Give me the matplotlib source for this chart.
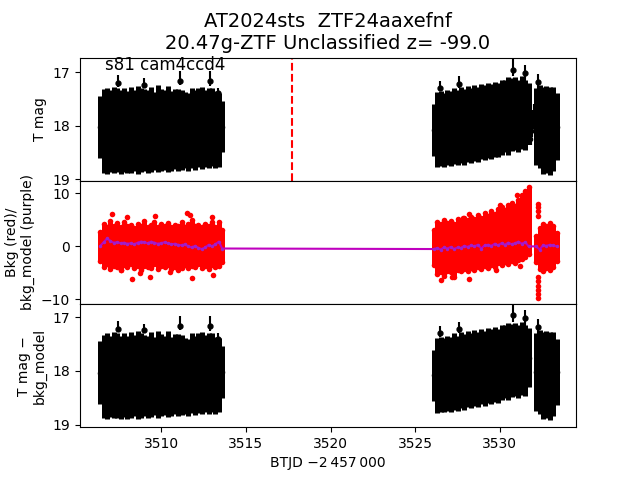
import matplotlib
matplotlib.use("Agg")
import matplotlib.pyplot as plt

# time bins (BTJD - 2457000) for the three chunks of data
t1 = [3506.4, 3506.6, 3506.8, 3507.0, 3507.2, 3507.4, 3507.6, 3507.8, 3508.0, 3508.2,
      3508.4, 3508.6, 3508.8, 3509.0, 3509.2, 3509.4, 3509.6, 3509.8, 3510.0, 3510.2,
      3510.4, 3510.6, 3510.8, 3511.0, 3511.2, 3511.4, 3511.6, 3511.8, 3512.0, 3512.2,
      3512.4, 3512.6, 3512.8, 3513.0, 3513.2, 3513.4, 3513.6]
t2 = [3526.1, 3526.3, 3526.5, 3526.7, 3526.9, 3527.1, 3527.3, 3527.5, 3527.7, 3527.9,
      3528.1, 3528.3, 3528.5, 3528.7, 3528.9, 3529.1, 3529.3, 3529.5, 3529.7, 3529.9,
      3530.1, 3530.3, 3530.5, 3530.7, 3530.9, 3531.1, 3531.3, 3531.5, 3531.7]
t3 = [3532.15, 3532.35, 3532.55, 3532.75, 3532.95, 3533.15, 3533.35]

# T mag and error
mag1 = [18.03, 18.10, 18.10, 18.10, 18.08, 18.08, 18.12, 18.08, 18.12, 18.08,
        18.09, 18.08, 18.08, 18.08, 18.11, 18.07, 18.10, 18.06, 18.08, 18.08,
        18.06, 18.10, 18.06, 18.08, 18.08, 18.09, 18.12, 18.04, 18.08, 18.04,
        18.04, 18.05, 18.05, 18.03, 18.08, 18.08, 18.02]
err1 = [0.58, 0.78, 0.80, 0.76, 0.80, 0.79, 0.78, 0.78, 0.77, 0.80,
        0.76, 0.82, 0.79, 0.76, 0.77, 0.79, 0.73, 0.81, 0.77, 0.74,
        0.80, 0.74, 0.75, 0.77, 0.75, 0.71, 0.72, 0.75, 0.74, 0.74,
        0.77, 0.72, 0.75, 0.73, 0.72, 0.69, 0.48]
mag2 = [18.08, 18.08, 18.06, 18.08, 18.04, 18.06, 18.01, 18.04, 17.99, 18.02,
        17.97, 18.00, 17.95, 17.98, 17.92, 17.95, 17.90, 17.92, 17.88, 17.90,
        17.84, 17.82, 17.82, 17.80, 17.78, 17.82, 17.76, 17.80, 17.75]
err2 = [0.48, 0.70, 0.70, 0.69, 0.70, 0.70, 0.71, 0.70, 0.71, 0.71,
        0.71, 0.70, 0.71, 0.70, 0.70, 0.70, 0.70, 0.70, 0.70, 0.69,
        0.70, 0.68, 0.72, 0.68, 0.68, 0.68, 0.68, 0.66, 0.55]
mag3 = [18.02, 18.02, 18.09, 18.07, 18.10, 18.06, 18.02]
err3 = [0.72, 0.78, 0.81, 0.81, 0.82, 0.79, 0.62]

# bright single points sticking out of the top (lower / upper error)
bright_t = [3507.42, 3509.00, 3511.12, 3512.89, 3513.38, 3526.46, 3527.60, 3530.79, 3531.50, 3532.26]
bright_mag = [17.21, 17.24, 17.16, 17.16, 17.40, 17.29, 17.22, 16.96, 17.02, 17.18]
bright_lo = [0.15, 0.12, 0.18, 0.18, 0.10, 0.12, 0.14, 0.20, 0.15, 0.15]
bright_hi = [0.07, 0.06, 0.08, 0.10, 0.06, 0.07, 0.08, 0.12, 0.14, 0.20]

# points bridging the short gap (only in the T mag panel)
bridge_t = [3531.78, 3531.86, 3531.94, 3532.02, 3532.08]
bridge_mag = [18.25, 18.10, 17.95, 17.82, 17.72]
bridge_err = [0.12, 0.12, 0.12, 0.12, 0.12]

# background flux: spread of the points per bin
bkg_hi1 = [2.8, 4.2, 3.6, 4.8, 3.9, 4.4, 3.7, 4.6, 3.8, 4.1, 3.5, 4.3, 3.9, 4.7, 3.6, 4.0,
           4.5, 3.7, 4.2, 3.8, 4.4, 3.6, 4.0, 3.9, 4.6, 3.7, 4.2, 5.0, 3.8, 4.1, 3.6, 4.3,
           3.9, 4.5, 3.7, 4.6, 3.0]
bkg_lo1 = [-2.8, -3.9, -3.4, -4.2, -3.6, -3.8, -4.5, -3.5, -3.9, -3.3, -4.1, -3.7, -4.4,
           -3.6, -3.8, -4.0, -3.4, -4.3, -3.7, -3.9, -3.5, -4.2, -3.8, -3.6, -4.0, -3.5,
           -4.1, -3.7, -3.9, -3.4, -4.0, -3.6, -4.3, -3.5, -3.8, -3.6, -2.9]
bkg_hi2 = [3.0, 4.6, 4.2, 5.0, 4.4, 4.8, 4.3, 5.2, 4.6, 5.4, 4.9, 5.6, 5.1, 6.0, 5.4, 6.2,
           5.8, 6.6, 6.1, 7.0, 7.4, 6.8, 7.8, 8.2, 7.6, 8.8, 9.6, 10.5, 11.2]
bkg_lo2 = [-3.5, -5.2, -4.8, -5.5, -4.6, -4.9, -5.8, -4.4, -4.7, -4.2, -4.6, -4.0, -4.4,
           -3.9, -4.2, -3.7, -4.0, -3.5, -3.8, -3.2, -3.5, -3.0, -3.3, -2.8, -3.1, -2.6,
           -2.4, -2.0, -1.5]
bkg_hi3 = [2.0, 3.5, 4.2, 3.8, 4.4, 3.9, 2.5]
bkg_lo3 = [-3.0, -4.2, -4.6, -4.0, -4.5, -3.8, -2.8]

# background outliers
out_t = [3507.10, 3507.98, 3509.65, 3511.50, 3511.70, 3512.99, 3507.60, 3508.27, 3508.76,
         3509.35, 3510.53, 3511.00, 3511.80, 3513.08, 3527.80, 3528.20, 3530.00, 3531.00,
         3526.55, 3527.20, 3528.20, 3529.80, 3531.20, 3532.25, 3532.25, 3532.25, 3532.25,
         3532.25, 3532.25, 3532.25, 3532.25, 3532.25, 3532.25]
out_v = [6.1, 5.5, 5.8, 6.2, 6.0, 5.5, -4.5, -6.1, -5.1,
         -5.8, -4.8, -4.5, -5.9, -5.3, 5.4, 6.1, 7.7, 9.6,
         -6.4, -5.8, -6.1, -4.5, -3.6, 8.0, 7.4, 6.6, 5.8,
         -5.8, -6.6, -7.4, -8.2, -9.0, -9.7]

# background model
model1 = [0.1, 0.8, 1.5, 1.0, 0.7, 0.8, 0.6, 0.7, 0.5, 0.6, 0.4, 0.7, 0.9, 0.8, 0.6, 0.9,
          0.7, 0.5, 0.6, 0.8, 0.6, 0.4, 0.5, 0.3, 0.2, 0.4, 0.0, -0.2, 0.1, -0.3, -0.5,
          -0.2, 0.3, 0.0, 0.4, 0.9, -0.4]
model2 = [-0.5, -0.3, -0.6, -0.2, -0.4, -0.1, -0.5, -0.2, -0.3, 0.1, -0.1, 0.2, 0.0, 0.3,
          -0.4, 0.2, 0.3, 0.1, 0.5, 0.2, 0.6, 0.3, 0.7, 0.4, 0.6, 0.9, 0.5, 0.8, 0.0]
model3 = [0.0, -0.6, 0.2, 0.1, 0.3, 0.2, 0.0]

t_disc = 3517.7

fig, (ax1, ax2, ax3) = plt.subplots(3, 1, sharex=True, figsize=(6.4, 4.8), dpi=100)
fig.subplots_adjust(hspace=0)

# panel 1: T mag
for t, m, e in [(t1, mag1, err1), (t2, mag2, err2), (t3, mag3, err3)]:
    ax1.errorbar(t, m, yerr=e, fmt='o', color='k', ms=3, elinewidth=3.6)
ax1.errorbar(bridge_t, bridge_mag, yerr=bridge_err, fmt='o-', color='k', ms=3, lw=3, elinewidth=3)
ax1.errorbar(bright_t, bright_mag, yerr=[bright_lo, bright_hi], fmt='o', color='k', ms=3.5, elinewidth=1.5)
ax1.axvline(t_disc, color='r', ls='--', lw=1.5)
ax1.set_ylim(19.03, 16.73)
ax1.set_yticks([17, 18, 19])
ax1.set_ylabel('T mag')
ax1.text(0.05, 0.9, 's81 cam4ccd4', transform=ax1.transAxes, fontsize=12)
ax1.set_title('AT2024sts  ZTF24aaxefnf\n20.47g-ZTF Unclassified z= -99.0', fontsize=14)

# panel 2: background and model
for t, lo, hi in [(t1, bkg_lo1, bkg_hi1), (t2, bkg_lo2, bkg_hi2), (t3, bkg_lo3, bkg_hi3)]:
    ax2.vlines(t, lo, hi, color='r', lw=3.6)
    ax2.plot(t, lo, 'o', color='r', ms=4, mew=0)
    ax2.plot(t, hi, 'o', color='r', ms=4, mew=0)
ax2.plot(out_t, out_v, 'o', color='r', ms=4, mew=0)
ax2.plot(t1 + t2 + t3, model1 + model2 + model3, '-', color='m', lw=1.5)
ax2.plot(t1 + t2 + t3, model1 + model2 + model3, 'o', color='#a020c8', ms=2.5, mew=0)
ax2.set_ylim(-10.85, 12.35)
ax2.set_yticks([-10, 0, 10])
ax2.set_ylabel('Bkg (red)/\nbkg_model (purple)')

# panel 3: T mag - bkg_model (looks the same as panel 1)
for t, m, e in [(t1, mag1, err1), (t2, mag2, err2), (t3, mag3, err3)]:
    ax3.errorbar(t, m, yerr=e, fmt='o', color='k', ms=3, elinewidth=3.6)
ax3.errorbar(bright_t, bright_mag, yerr=[bright_lo, bright_hi], fmt='o', color='k', ms=3.5, elinewidth=1.5)
ax3.set_ylim(19.05, 16.75)
ax3.set_yticks([17, 18, 19])
ax3.set_ylabel('T mag \u2212\nbkg_model')

ax3.set_xlim(3505.2, 3534.5)
ax3.set_xlabel('BTJD \u22122\u2009457\u2009000')

plt.savefig('out.png')
